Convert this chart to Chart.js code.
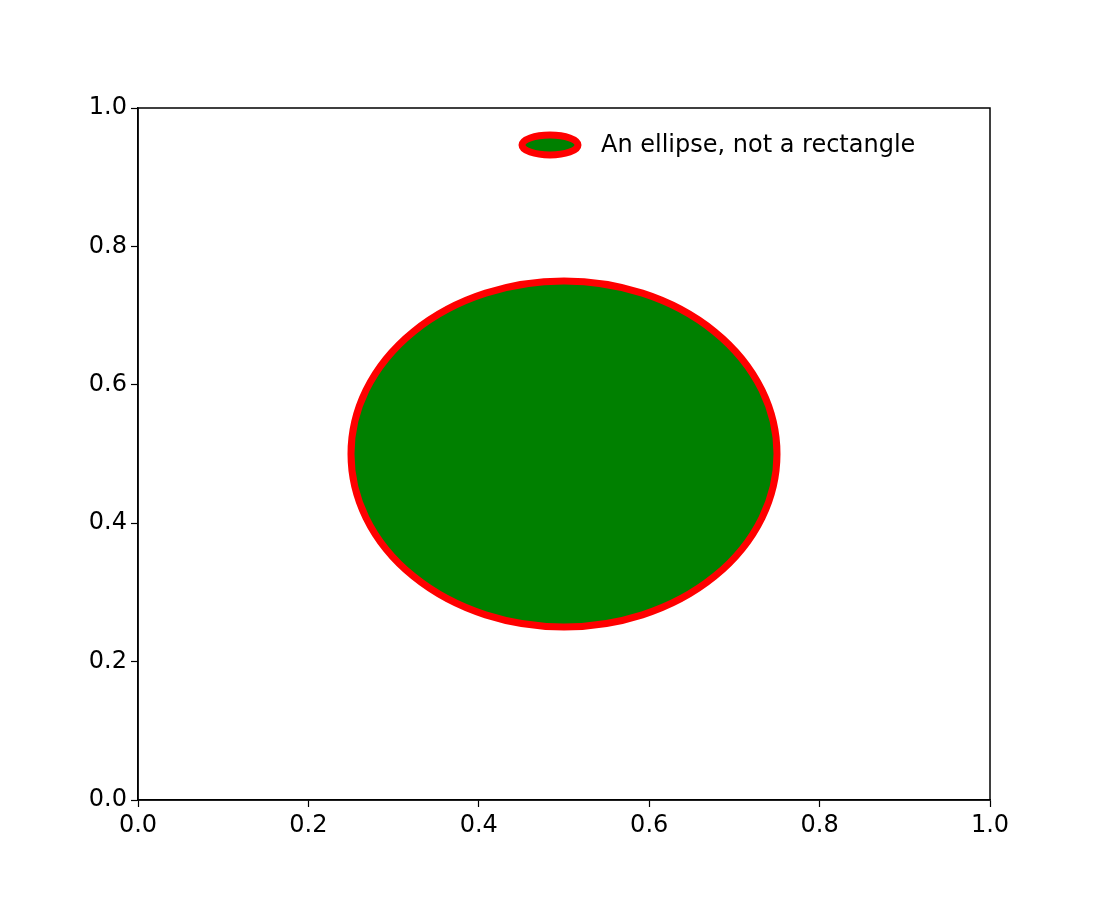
<!DOCTYPE html>
<html>
<head>
<meta charset="utf-8">
<script src="https://cdn.jsdelivr.net/npm/chart.js@4"></script>
<style>
  body { margin: 0; background: #fff; }
  #wrap { width: 1100px; height: 900px; }
</style>
</head>
<body>
<div id="wrap"><canvas id="ellipseChart" width="1100" height="900"></canvas></div>
<script>
    // Дані еліпса (координати даних)
    const ellipseCenter = [0.5, 0.5];
    const ellipseSize = [0.5, 0.5]; // ширина, висота
    const legendLabels = ['An ellipse, not a rectangle'];
    const tickValues = [0, 0.2, 0.4, 0.6, 0.8, 1.0];

    const font = { family: 'DejaVu Sans', size: 24 };

    // Плагін: малює еліпс, рамку і легенду
    const ellipsePlugin = {
        id: 'ellipse',
        beforeDatasetsDraw(chart) {
            const { ctx, chartArea, scales } = chart;
            const cx = scales.x.getPixelForValue(ellipseCenter[0]);
            const cy = scales.y.getPixelForValue(ellipseCenter[1]);
            const rx = Math.abs(scales.x.getPixelForValue(ellipseCenter[0] + ellipseSize[0] / 2) - cx);
            const ry = Math.abs(scales.y.getPixelForValue(ellipseCenter[1] + ellipseSize[1] / 2) - cy);
            ctx.save();
            ctx.beginPath();
            ctx.rect(chartArea.left, chartArea.top, chartArea.right - chartArea.left, chartArea.bottom - chartArea.top);
            ctx.clip();
            ctx.beginPath();
            ctx.ellipse(cx, cy, rx, ry, 0, 0, Math.PI * 2);
            ctx.fillStyle = '#008000';
            ctx.fill();
            ctx.lineWidth = 7;
            ctx.strokeStyle = '#ff0000';
            ctx.stroke();
            ctx.restore();
        },
        afterDraw(chart) {
            const { ctx, chartArea } = chart;
            ctx.save();
            ctx.strokeStyle = '#000';
            ctx.lineWidth = 1.5;
            ctx.strokeRect(chartArea.left, chartArea.top, chartArea.right - chartArea.left, chartArea.bottom - chartArea.top);
            // легенда
            const ly = chartArea.top + 37;
            ctx.beginPath();
            ctx.ellipse(chartArea.left + 412, ly, 28, 10, 0, 0, Math.PI * 2);
            ctx.fillStyle = '#008000';
            ctx.fill();
            ctx.lineWidth = 7;
            ctx.strokeStyle = '#ff0000';
            ctx.stroke();
            ctx.fillStyle = '#000';
            ctx.font = '24px "DejaVu Sans"';
            ctx.textBaseline = 'middle';
            ctx.fillText(legendLabels[0], chartArea.left + 463, ly + 1);
            ctx.restore();
        }
    };

    const axisCommon = {
        type: 'linear',
        min: 0,
        max: 1,
        afterBuildTicks: (axis) => { axis.ticks = tickValues.map(v => ({ value: v })); },
        ticks: {
            color: '#000',
            font: font,
            padding: 4,
            maxRotation: 0,
            callback: (v) => Number(v).toFixed(1)
        },
        grid: { drawOnChartArea: false, tickLength: 7, color: '#000', tickWidth: 1.2 },
        border: { color: '#000', width: 1.5 }
    };

    new Chart(document.getElementById('ellipseChart').getContext('2d'), {
        type: 'scatter',
        data: { datasets: [{ label: legendLabels[0], data: [] }] },
        options: {
            responsive: false,
            animation: false,
            layout: { padding: { top: 108, right: 110, left: 0, bottom: 0 } },
            plugins: { legend: { display: false }, tooltip: { enabled: false } },
            scales: {
                x: Object.assign({}, axisCommon, {
                    afterFit: (axis) => { axis.height = 100; }
                }),
                y: Object.assign({}, axisCommon, {
                    afterFit: (axis) => { axis.width = 138; }
                })
            }
        },
        plugins: [ellipsePlugin]
    });
</script>
</body>
</html>
